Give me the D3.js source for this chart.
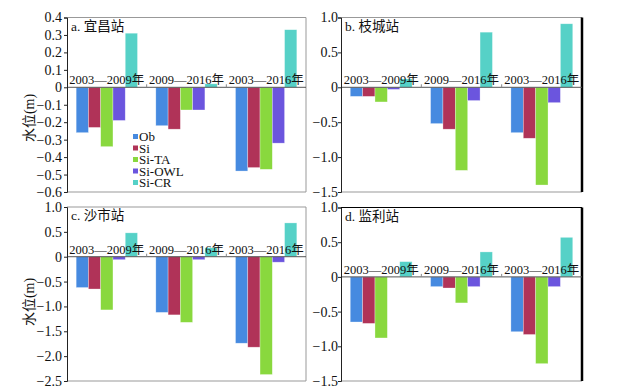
<!DOCTYPE html>
<html><head><meta charset="utf-8">
<script src="https://cdn.jsdelivr.net/npm/d3@7"></script>
<style>
html,body{margin:0;padding:0;background:#fff;}
text{font-family:"Liberation Serif","Noto Sans CJK SC",serif;fill:#111;}
</style></head>
<body>
<svg id="c" width="636" height="388"></svg>
<script>
const categories = ["2003—2009年", "2009—2016年", "2003—2016年"];
const seriesNames = ["Ob", "Si", "Si-TA", "Si-OWL", "Si-CR"];
const colors = ["#468ae0", "#b03358", "#89d83e", "#6b55de", "#56d1c7"];
// values per station: [series][category]
const yichang = [
  [-0.26, -0.22, -0.48],
  [-0.23, -0.24, -0.46],
  [-0.34, -0.13, -0.47],
  [-0.19, -0.13, -0.32],
  [0.31, 0.02, 0.33]
];
const zhicheng = [
  [-0.13, -0.52, -0.65],
  [-0.13, -0.60, -0.73],
  [-0.21, -1.19, -1.40],
  [-0.03, -0.19, -0.22],
  [0.12, 0.79, 0.91]
];
const shashi = [
  [-0.62, -1.12, -1.74],
  [-0.65, -1.17, -1.82],
  [-1.07, -1.32, -2.37],
  [-0.06, -0.06, -0.11],
  [0.48, 0.18, 0.68]
];
const jianli = [
  [-0.65, -0.14, -0.79],
  [-0.67, -0.16, -0.83],
  [-0.88, -0.375, -1.25],
  [0, -0.14, -0.14],
  [0.22, 0.36, 0.57]
];
const ticksA = [0.4, 0.3, 0.2, 0.1, 0, -0.1, -0.2, -0.3, -0.4, -0.5, -0.6];
const ticksB = [1.0, 0.5, 0, -0.5, -1.0, -1.5];
const ticksC = [1.0, 0.5, 0, -0.5, -1.0, -1.5, -2.0, -2.5];
const ticksD = [1.0, 0.5, 0, -0.5, -1.0, -1.5];
const titles = ["a. 宜昌站", "b. 枝城站", "c. 沙市站", "d. 监利站"];
const yTitle = "水位(m)";

const panels = [
  {data: yichang, ticks: ticksA, title: titles[0], x0: 67, x1: 306, y0: 17.5, y1: 192, pad: 2, ytitle: 118, legend: true, topC: "#999", rightC: "#999", rightW: 1},
  {data: zhicheng, ticks: ticksB, title: titles[1], x0: 341, x1: 582, y0: 17.5, y1: 192, pad: 0, ytitle: null, legend: false, topC: "#999", rightC: "#000", rightW: 2.5},
  {data: shashi, ticks: ticksC, title: titles[2], x0: 67, x1: 306, y0: 207, y1: 381, pad: 2, ytitle: 302, legend: false, topC: "#999", rightC: "#999", rightW: 1},
  {data: jianli, ticks: ticksD, title: titles[3], x0: 341, x1: 582, y0: 207.5, y1: 381, pad: 0, ytitle: null, legend: false, topC: "#000", rightC: "#000", rightW: 2.5}
];

const svg = d3.select("#c");
const fmt = v => v === 0 ? "0" : d3.format(".1f")(v).replace("-", "\u2212");

panels.forEach(p => {
  const g = svg.append("g");
  const y = d3.scaleLinear().domain([d3.min(p.ticks), d3.max(p.ticks)]).range([p.y1, p.y0]);
  const x0 = d3.scaleBand().domain(categories).range([p.x0, p.x1]).paddingInner(0.23).paddingOuter(0.115);
  const x1 = d3.scaleBand().domain(seriesNames).range([0, x0.bandwidth()]).padding(0);

  // frame
  g.append("line").attr("x1", p.x0).attr("x2", p.x1).attr("y1", p.y0).attr("y2", p.y0).attr("stroke", p.topC).attr("stroke-width", 1);
  g.append("line").attr("x1", p.x0).attr("x2", p.x1).attr("y1", p.y1).attr("y2", p.y1).attr("stroke", "#999").attr("stroke-width", 1);
  g.append("line").attr("x1", p.x1).attr("x2", p.x1).attr("y1", p.y0).attr("y2", p.y1).attr("stroke", p.rightC).attr("stroke-width", p.rightW);

  // bars
  categories.forEach((cat, ci) => {
    seriesNames.forEach((s, si) => {
      const v = p.data[si][ci];
      if (v === 0) return;
      g.append("rect")
        .attr("x", x0(cat) + x1(s))
        .attr("width", x1.bandwidth())
        .attr("y", Math.min(y(v), y(0)))
        .attr("height", Math.abs(y(v) - y(0)))
        .attr("fill", colors[si])
        .attr("stroke", "#fff").attr("stroke-opacity", 0.5).attr("stroke-width", 0.6);
    });
  });

  // zero line
  g.append("line").attr("x1", p.x0).attr("x2", p.x1).attr("y1", y(0)).attr("y2", y(0)).attr("stroke", "#555").attr("stroke-width", 1);
  // category boundary ticks
  [1, 2].forEach(i => {
    const bx = p.x0 + x0.step() * i;
    g.append("line").attr("x1", bx).attr("x2", bx).attr("y1", y(0) - 3).attr("y2", y(0)).attr("stroke", "#888").attr("stroke-width", 1);
  });

  // category labels
  categories.forEach(cat => {
    g.append("text").attr("x", x0(cat) + x0.bandwidth() / 2).attr("y", y(0) - 3)
      .attr("text-anchor", "middle").attr("font-size", 12.5).text(cat);
  });

  // y axis
  const ax = g.append("g").attr("transform", `translate(${p.x0},0)`)
    .call(d3.axisLeft(y).tickValues(p.ticks).tickFormat(fmt).tickSize(3).tickPadding(p.pad));
  ax.attr("font-size", 14);
  ax.select(".domain").attr("stroke", "#222");
  ax.selectAll(".tick line").attr("stroke", "#222");
  ax.selectAll(".tick text").attr("font-size", 14).attr("fill", "#111");

  // title
  g.append("text").attr("x", p.x0 + 4).attr("y", p.y0 + 13).attr("font-size", 13.5).text(p.title);

  // y title
  if (p.ytitle !== null) {
    g.append("text").attr("transform", `translate(34,${p.ytitle}) rotate(-90)`)
      .attr("text-anchor", "middle").attr("font-size", 14).text(yTitle);
  }

  // legend
  if (p.legend) {
    seriesNames.forEach((s, si) => {
      const cy = 136.5 + si * 11.5;
      g.append("rect").attr("x", 133).attr("y", cy - 2.5).attr("width", 5).attr("height", 5).attr("fill", colors[si]);
      g.append("text").attr("x", 139).attr("y", cy + 4.5).attr("font-size", 13).text(s);
    });
  }
});
</script>
</body></html>
